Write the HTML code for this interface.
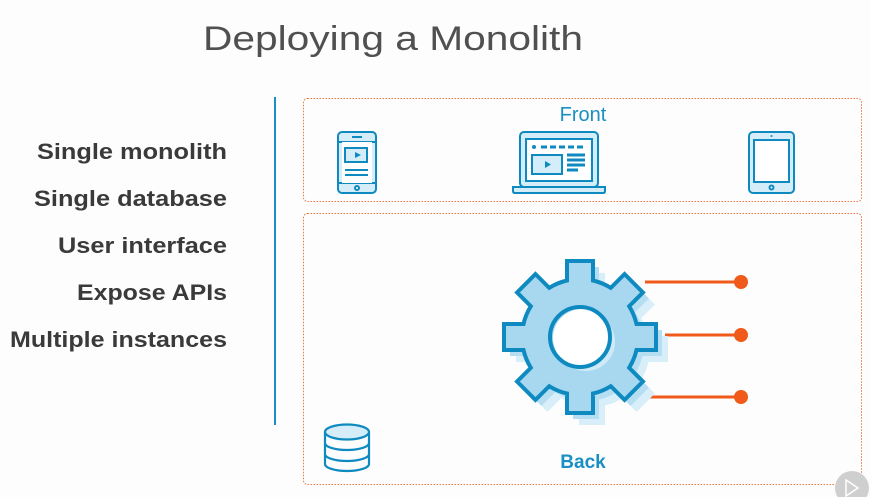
<!DOCTYPE html>
<html><head><meta charset="utf-8"><style>
html,body{margin:0;padding:0;background:#fff;}
svg{display:block;}
</style></head><body>
<svg width="870" height="497" viewBox="0 0 870 497" xmlns="http://www.w3.org/2000/svg" font-family="Liberation Sans, sans-serif">
<rect width="870" height="497" fill="#fdfdfd"/>
<text x="203" y="50" font-size="34" fill="#505050" textLength="380" lengthAdjust="spacingAndGlyphs">Deploying a Monolith</text>
<g font-size="22" font-weight="bold" fill="#3a3a3a" text-anchor="end">
<text x="227" y="159" textLength="190" lengthAdjust="spacingAndGlyphs">Single monolith</text>
<text x="227" y="206" textLength="193" lengthAdjust="spacingAndGlyphs">Single database</text>
<text x="227" y="253" textLength="169" lengthAdjust="spacingAndGlyphs">User interface</text>
<text x="227" y="300" textLength="150" lengthAdjust="spacingAndGlyphs">Expose APIs</text>
<text x="227" y="347" textLength="217" lengthAdjust="spacingAndGlyphs">Multiple instances</text>
</g>
<line x1="275" y1="97" x2="275" y2="425" stroke="#1a8fc4" stroke-width="2"/>
<rect x="303.5" y="98.5" width="558" height="103" rx="4" fill="none" stroke="#ee7744" stroke-width="1" stroke-dasharray="1.5 1.5"/>
<rect x="303.5" y="213.5" width="558" height="271" rx="4" fill="none" stroke="#ee7744" stroke-width="1" stroke-dasharray="1.5 1.5"/>
<text x="583" y="121" font-size="20" fill="#1a8fc4" text-anchor="middle">Front</text>
<text x="583" y="468" font-size="19" font-weight="bold" fill="#1a8fc4" text-anchor="middle">Back</text>
<!-- phone -->
<g stroke="#0e8ac0" stroke-width="2" fill="#d4edf8">
<rect x="338" y="132" width="38" height="61" rx="4"/>
<line x1="338" y1="142" x2="376" y2="142"/>
<line x1="338" y1="183" x2="376" y2="183"/>
<rect x="342" y="142" width="30" height="41" fill="#fff" stroke="none"/>
<rect x="345" y="148" width="22" height="14" fill="#d4edf8"/>
<line x1="345" y1="170" x2="368" y2="170"/><line x1="345" y1="175" x2="368" y2="175"/>
<line x1="352" y1="137" x2="362" y2="137"/>
<circle cx="357" cy="188" r="2" fill="#fff"/>
</g>
<path d="M355 152 L361 155 L355 158Z" fill="#0e8ac0"/>
<!-- laptop -->
<g stroke="#0e8ac0" stroke-width="2" fill="#d4edf8">
<rect x="520" y="132" width="78" height="55" rx="4"/>
<rect x="526" y="139" width="66" height="42" fill="#fff"/>
<path d="M513 187 H605 V191 Q605 193 603 193 H515 Q513 193 513 191Z"/>
<rect x="532" y="155" width="30" height="19"/>
</g>
<g stroke="#0e8ac0" stroke-width="3">
<line x1="541" y1="147" x2="585" y2="147" stroke-dasharray="6 3"/>
<line x1="567" y1="155" x2="585" y2="155"/><line x1="567" y1="160" x2="585" y2="160"/><line x1="567" y1="165" x2="585" y2="165"/><line x1="567" y1="170" x2="578" y2="170"/>
</g>
<circle cx="534" cy="147" r="2" fill="#0e8ac0"/>
<path d="M545 161 L551 164.5 L545 168Z" fill="#0e8ac0"/>
<!-- tablet -->
<g stroke="#0e8ac0" stroke-width="2" fill="#d4edf8">
<rect x="749" y="132" width="45" height="61" rx="4"/>
<rect x="754" y="140" width="35" height="42" fill="#fff"/>
<circle cx="771.5" cy="187.5" r="2" fill="#fff"/>
</g>
<circle cx="771.5" cy="136" r="1" fill="#0e8ac0"/>
<!-- database -->
<g stroke="#0e8ac0" stroke-width="2.2" fill="none">
<path d="M325 432 V464 A22 7 0 0 0 369 464 V432"/>
<ellipse cx="347" cy="432" rx="22" ry="7.5" fill="#d4edf8"/>
<path d="M325 443 A22 7 0 0 0 369 443"/>
<path d="M325 454 A22 7 0 0 0 369 454"/>
</g>
<!-- lines -->
<g stroke="#f05a1a" stroke-width="3">
<line x1="645" y1="282" x2="740" y2="282"/>
<line x1="665" y1="335" x2="740" y2="335"/>
<line x1="645" y1="397" x2="740" y2="397"/>
</g>
<g fill="#f05a1a"><circle cx="741" cy="282" r="7"/><circle cx="741" cy="335" r="7"/><circle cx="741" cy="397" r="7"/></g>
<!-- gear -->
<defs>
<path id="g" d="M56.5,-13 L76,-13 L76,13 L56.5,13 A58 58 0 0 1 49.14,30.76 L62.93,44.55 L44.55,62.93 L30.76,49.14 A58 58 0 0 1 13,56.5 L13,76 L-13,76 L-13,56.5 A58 58 0 0 1 -30.76,49.14 L-44.55,62.93 L-62.93,44.55 L-49.14,30.76 A58 58 0 0 1 -56.5,13 L-76,13 L-76,-13 L-56.5,-13 A58 58 0 0 1 -49.14,-30.76 L-62.93,-44.55 L-44.55,-62.93 L-30.76,-49.14 A58 58 0 0 1 -13,-56.5 L-13,-76 L13,-76 L13,-56.5 A58 58 0 0 1 30.76,-49.14 L44.55,-62.93 L62.93,-44.55 L49.14,-30.76 A58 58 0 0 1 56.5,-13 Z"/>
</defs>
<use href="#g" transform="translate(592,349)" fill="#d8eef9"/>
<use href="#g" transform="translate(586,343)" fill="#b5def2"/>
<use href="#g" transform="translate(580,337)" fill="#a8d8ef" stroke="#0e8ac0" stroke-width="4"/>
<circle cx="586" cy="342" r="29" fill="#cfeaf7"/>
<circle cx="582" cy="338" r="29" fill="#fff"/>
<circle cx="580" cy="337" r="30" fill="none" stroke="#0e8ac0" stroke-width="4"/>
<circle cx="852" cy="488" r="17" fill="#cfcfcf"/>
<path d="M846 480 L858 488 L846 496Z" fill="none" stroke="#fff" stroke-width="1.5"/>
</svg>
</body></html>
